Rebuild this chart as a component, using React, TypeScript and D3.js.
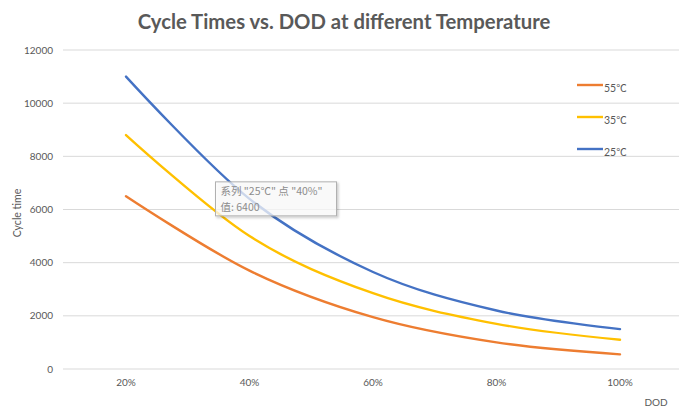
import React from "react";
import * as d3 from "d3";

const categories = ["20%", "40%", "60%", "80%", "100%"];
const series55 = [6500, 3700, 1950, 1000, 550];
const series35 = [8800, 5000, 2850, 1700, 1100];
const series25 = [11000, 6400, 3650, 2200, 1500];
const seriesNames = ["55℃", "35℃", "25℃"];
const seriesColors = ["#ED7D31", "#FFC000", "#4472C4"];
const yTicks = [0, 2000, 4000, 6000, 8000, 10000, 12000];

const W = 679;
const H = 407;
const FONT = "Lato, 'Noto Sans CJK SC', sans-serif";
const TEXT = "#595959";

export default function App() {
  const x = d3.scalePoint<string>().domain(categories).range([126, 620]);
  const y = d3.scaleLinear().domain([0, 12000]).range([369, 50]);
  const allSeries = [series55, series35, series25];
  const line = d3
    .line<number>()
    .x((_, i) => x(categories[i]) as number)
    .y((d) => y(d))
    .curve(d3.curveCardinal.tension(0));

  const tipX = (x("40%") as number) - 34;
  const tipY = y(series25[1]) - 17;

  return (
    <svg
      width={W}
      height={H}
      style={{ position: "absolute", left: 0, top: 0, background: "#fff" }}
      fontFamily={FONT}
    >
      <defs>
        <filter id="sh" x="-10%" y="-20%" width="130%" height="160%">
          <feDropShadow dx="1.5" dy="1.5" stdDeviation="1.2" floodColor="#000" floodOpacity="0.25" />
        </filter>
      </defs>
      <rect width={W} height={H} fill="#fff" />
      <text
        x={344}
        y={29}
        textAnchor="middle"
        fontSize={20.3}
        fontWeight={700}
        fill={TEXT}
      >
        Cycle Times vs. DOD at different Temperature
      </text>
      {yTicks.map((t) => (
        <g key={t}>
          <line x1={63} x2={W} y1={y(t)} y2={y(t)} stroke="#d9d9d9" strokeWidth={1} />
          <text x={53} y={y(t) + 3.5} textAnchor="end" fontSize={10} fill={TEXT}>
            {t}
          </text>
        </g>
      ))}
      <text
        transform={`translate(21,${213}) rotate(-90)`}
        textAnchor="middle"
        fontSize={10.5}
        fill={TEXT}
      >
        Cycle time
      </text>
      {categories.map((c) => (
        <text key={c} x={x(c) as number} y={386} textAnchor="middle" fontSize={10} fill={TEXT}>
          {c}
        </text>
      ))}
      <text x={656} y={406} textAnchor="middle" fontSize={10} fill={TEXT}>
        DOD
      </text>
      {allSeries.map((s, i) => (
        <path
          key={i}
          d={line(s) as string}
          fill="none"
          stroke={seriesColors[i]}
          strokeWidth={2.4}
          strokeLinecap="round"
        />
      ))}
      {seriesNames.map((n, i) => (
        <g key={n} transform={`translate(577,${85 + i * 32})`}>
          <line x1={0} x2={26} y1={0} y2={0} stroke={seriesColors[i]} strokeWidth={2.4} />
          <text x={27} y={7} fontSize={10.5} fill={TEXT}>
            {n}
          </text>
        </g>
      ))}
      <g transform={`translate(${tipX},${tipY})`}>
        <rect
          width={121}
          height={34}
          fill="#fff"
          fillOpacity={0.7}
          stroke="#b0b0b0"
          strokeWidth={1}
          filter="url(#sh)"
        />
        <text x={5} y={13.5} fontSize={10.5} fill="#8c8c8c" fontFamily="'Noto Sans CJK SC', sans-serif">
          {`系列 "${seriesNames[2]}" 点 "${categories[1]}"`}
        </text>
        <text x={5} y={29} fontSize={10.5} fill="#8c8c8c" fontFamily="'Noto Sans CJK SC', sans-serif">
          {`值: ${series25[1]}`}
        </text>
      </g>
    </svg>
  );
}
